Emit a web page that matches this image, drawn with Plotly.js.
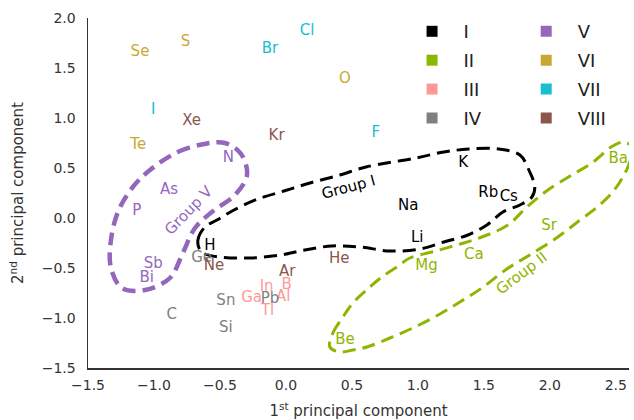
<!DOCTYPE html>
<html><head><meta charset="utf-8">
<script src="https://cdn.plot.ly/plotly-3.0.1.min.js"></script>
<style>html,body{margin:0;padding:0;background:#fff}#chart{width:634px;height:420px}</style>
</head><body><div id="chart"></div>
<script>
// ---- data ----
const groupNames = ['I','II','III','IV','V','VI','VII','VIII'];
const groupColors = ['#000000','#8db600','#ff9999','#808080','#9467bd','#c9a832','#17becf','#8c564b'];

const elemI = ['H','Li','Na','K','Rb','Cs'];
const pc1I = [-0.576, 0.995, 0.927, 1.343, 1.533, 1.689];
const pc2I = [-0.28, -0.203, 0.12, 0.547, 0.247, 0.203];

const elemII = ['Be','Mg','Ca','Sr','Ba'];
const pc1II = [0.447, 1.066, 1.424, 1.995, 2.518];
const pc2II = [-1.227, -0.487, -0.377, -0.08, 0.587];

const elemIII = ['B','Al','Ga','In','Tl'];
const pc1III = [0.005, -0.02, -0.26, -0.146, -0.139];
const pc2III = [-0.67, -0.797, -0.803, -0.693, -0.937];

const elemIV = ['C','Si','Ge','Sn','Pb'];
const pc1IV = [-0.866, -0.455, -0.639, -0.455, -0.121];
const pc2IV = [-0.97, -1.103, -0.403, -0.837, -0.813];

const elemV = ['N','P','As','Sb','Bi'];
const pc1V = [-0.437, -1.131, -0.886, -1.005, -1.055];
const pc2V = [0.597, 0.063, 0.273, -0.463, -0.603];

const elemVI = ['O','S','Se','Te'];
const pc1VI = [0.447, -0.76, -1.106, -1.119];
const pc2VI = [1.387, 1.757, 1.657, 0.73];

const elemVII = ['F','Cl','Br','I'];
const pc1VII = [0.682, 0.161, -0.121, -1.005];
const pc2VII = [0.847, 1.863, 1.687, 1.073];

const elemVIII = ['He','Ne','Ar','Kr','Xe'];
const pc1VIII = [0.404, -0.545, 0.01, -0.071, -0.715];
const pc2VIII = [-0.41, -0.487, -0.547, 0.82, 0.963];

// group outlines (closed curves)
const outlineIx = [-0.652,-0.667,-0.614,-0.523,-0.394,-0.212,-0.015,0.182,0.409,0.606,0.985,1.197,1.386,1.614,1.773,1.848,1.886,1.864,1.773,1.644,1.523,1.379,1.197,1.015,0.788,0.561,0.348,0.144,-0.038,-0.273,-0.5,-0.614];
const outlineIy = [-0.32,-0.22,-0.09,-0.02,0.08,0.19,0.27,0.35,0.43,0.51,0.60,0.66,0.69,0.69,0.63,0.46,0.31,0.21,0.13,0.06,-0.07,-0.17,-0.24,-0.31,-0.33,-0.29,-0.28,-0.32,-0.37,-0.40,-0.39,-0.36];

const outlineIIx = [0.333,0.356,0.432,0.508,0.636,0.727,0.841,0.939,1.106,1.295,1.485,1.682,1.826,1.985,2.167,2.318,2.477,2.568,2.625,2.6,2.545,2.47,2.36,2.22,2.05,1.848,1.674,1.485,1.318,1.167,0.977,0.788,0.614,0.508,0.409];
const outlineIIy = [-1.29,-1.15,-0.99,-0.85,-0.69,-0.59,-0.49,-0.40,-0.34,-0.27,-0.19,-0.07,0.11,0.28,0.43,0.55,0.72,0.76,0.70,0.54,0.39,0.25,0.11,-0.03,-0.20,-0.37,-0.51,-0.70,-0.84,-0.96,-1.09,-1.20,-1.29,-1.32,-1.34];

const outlineVx = [-1.03,-0.82,-0.62,-0.462,-0.34,-0.295,-0.386,-0.561,-0.689,-0.788,-0.879,-1.068,-1.242,-1.326,-1.326,-1.27,-1.16];
const outlineVy = [0.48,0.66,0.74,0.75,0.64,0.43,0.23,0.06,-0.10,-0.37,-0.60,-0.72,-0.70,-0.50,-0.22,0.07,0.31];

// ---- build ----
const close = a => a.concat([a[0]]);
const traces = [];
function outline(xs, ys, color, width) {
  traces.push({x: close(xs), y: close(ys), mode: 'lines', showlegend: false, hoverinfo: 'skip',
    line: {color: color, width: width, dash: '13px,7px', shape: 'spline', smoothing: 1}});
}
outline(outlineIx, outlineIy, groupColors[0], 3);
outline(outlineIIx, outlineIIy, groupColors[1], 3);
outline(outlineVx, outlineVy, groupColors[4], 4.5);

const groups = [
  [elemI, pc1I, pc2I], [elemII, pc1II, pc2II], [elemIII, pc1III, pc2III], [elemIV, pc1IV, pc2IV],
  [elemV, pc1V, pc2V], [elemVI, pc1VI, pc2VI], [elemVII, pc1VII, pc2VII], [elemVIII, pc1VIII, pc2VIII]
];
groups.forEach((g, i) => {
  traces.push({x: g[1], y: g[2], text: g[0], mode: 'text', textposition: 'middle center',
    textfont: {family: 'DejaVu Sans', size: 15, color: groupColors[i]}, showlegend: false, hoverinfo: 'text'});
});
groupNames.forEach((n, i) => {
  traces.push({x: [null], y: [null], mode: 'markers', name: '\u00a0\u00a0' + n, legendgroup: n,
    marker: {symbol: 'square', size: 11, color: groupColors[i]},
    legend: i < 4 ? 'legend' : 'legend2'});
});

const legFont = {family: 'DejaVu Sans', size: 18, color: '#222'};
const legCommon = {xanchor: 'left', yanchor: 'top', font: legFont, bgcolor: 'rgba(0,0,0,0)', itemwidth: 30, traceorder: 'grouped', tracegroupgap: 2.5};
const layout = {
  width: 634, height: 420,
  margin: {l: 88, r: 5, t: 18, b: 52},
  paper_bgcolor: '#fff', plot_bgcolor: '#fff',
  font: {family: 'DejaVu Sans', color: '#333'},
  xaxis: {range: [-1.5, 2.6], tickvals: [-1.5,-1,-0.5,0,0.5,1,1.5,2,2.5], ticktext: ['\u22121.5','\u22121.0','\u22120.5','0.0','0.5','1.0','1.5','2.0','2.5'],
    showgrid: false, zeroline: false, showline: true, linecolor: '#333', linewidth: 1.5, ticks: '',
    tickfont: {size: 14, color: '#333'}, ticklabelstandoff: 4,
    title: {text: '1<sup>st</sup> principal component', font: {size: 15, color: '#333'}, standoff: 13}},
  yaxis: {range: [-1.5, 2.0], tickvals: [-1.5,-1,-0.5,0,0.5,1,1.5,2], ticktext: ['\u22121.5','\u22121.0','\u22120.5','0.0','0.5','1.0','1.5','2.0'],
    showgrid: false, zeroline: false, showline: true, linecolor: '#333', linewidth: 1.5, ticks: '',
    tickfont: {size: 14, color: '#333'}, ticklabelstandoff: 8,
    title: {text: '2<sup>nd</sup> principal component', font: {size: 15, color: '#333'}, standoff: 14}},
  legend: Object.assign({x: 0.599, y: 1.014}, legCommon),
  legend2: Object.assign({x: 0.81, y: 1.014}, legCommon),
  annotations: [
    {x: 0.477, y: 0.31, text: 'Group I', showarrow: false, textangle: -15, font: {size: 15, color: groupColors[0]}},
    {x: 1.788, y: -0.55, text: 'Group II', showarrow: false, textangle: -37, font: {size: 15, color: groupColors[1]}},
    {x: -0.735, y: 0.08, text: 'Group V', showarrow: false, textangle: -46, font: {size: 15, color: groupColors[4]}}
  ],
  showlegend: true
};
Plotly.newPlot('chart', traces, layout, {displayModeBar: false, staticPlot: true});
</script></body></html>
